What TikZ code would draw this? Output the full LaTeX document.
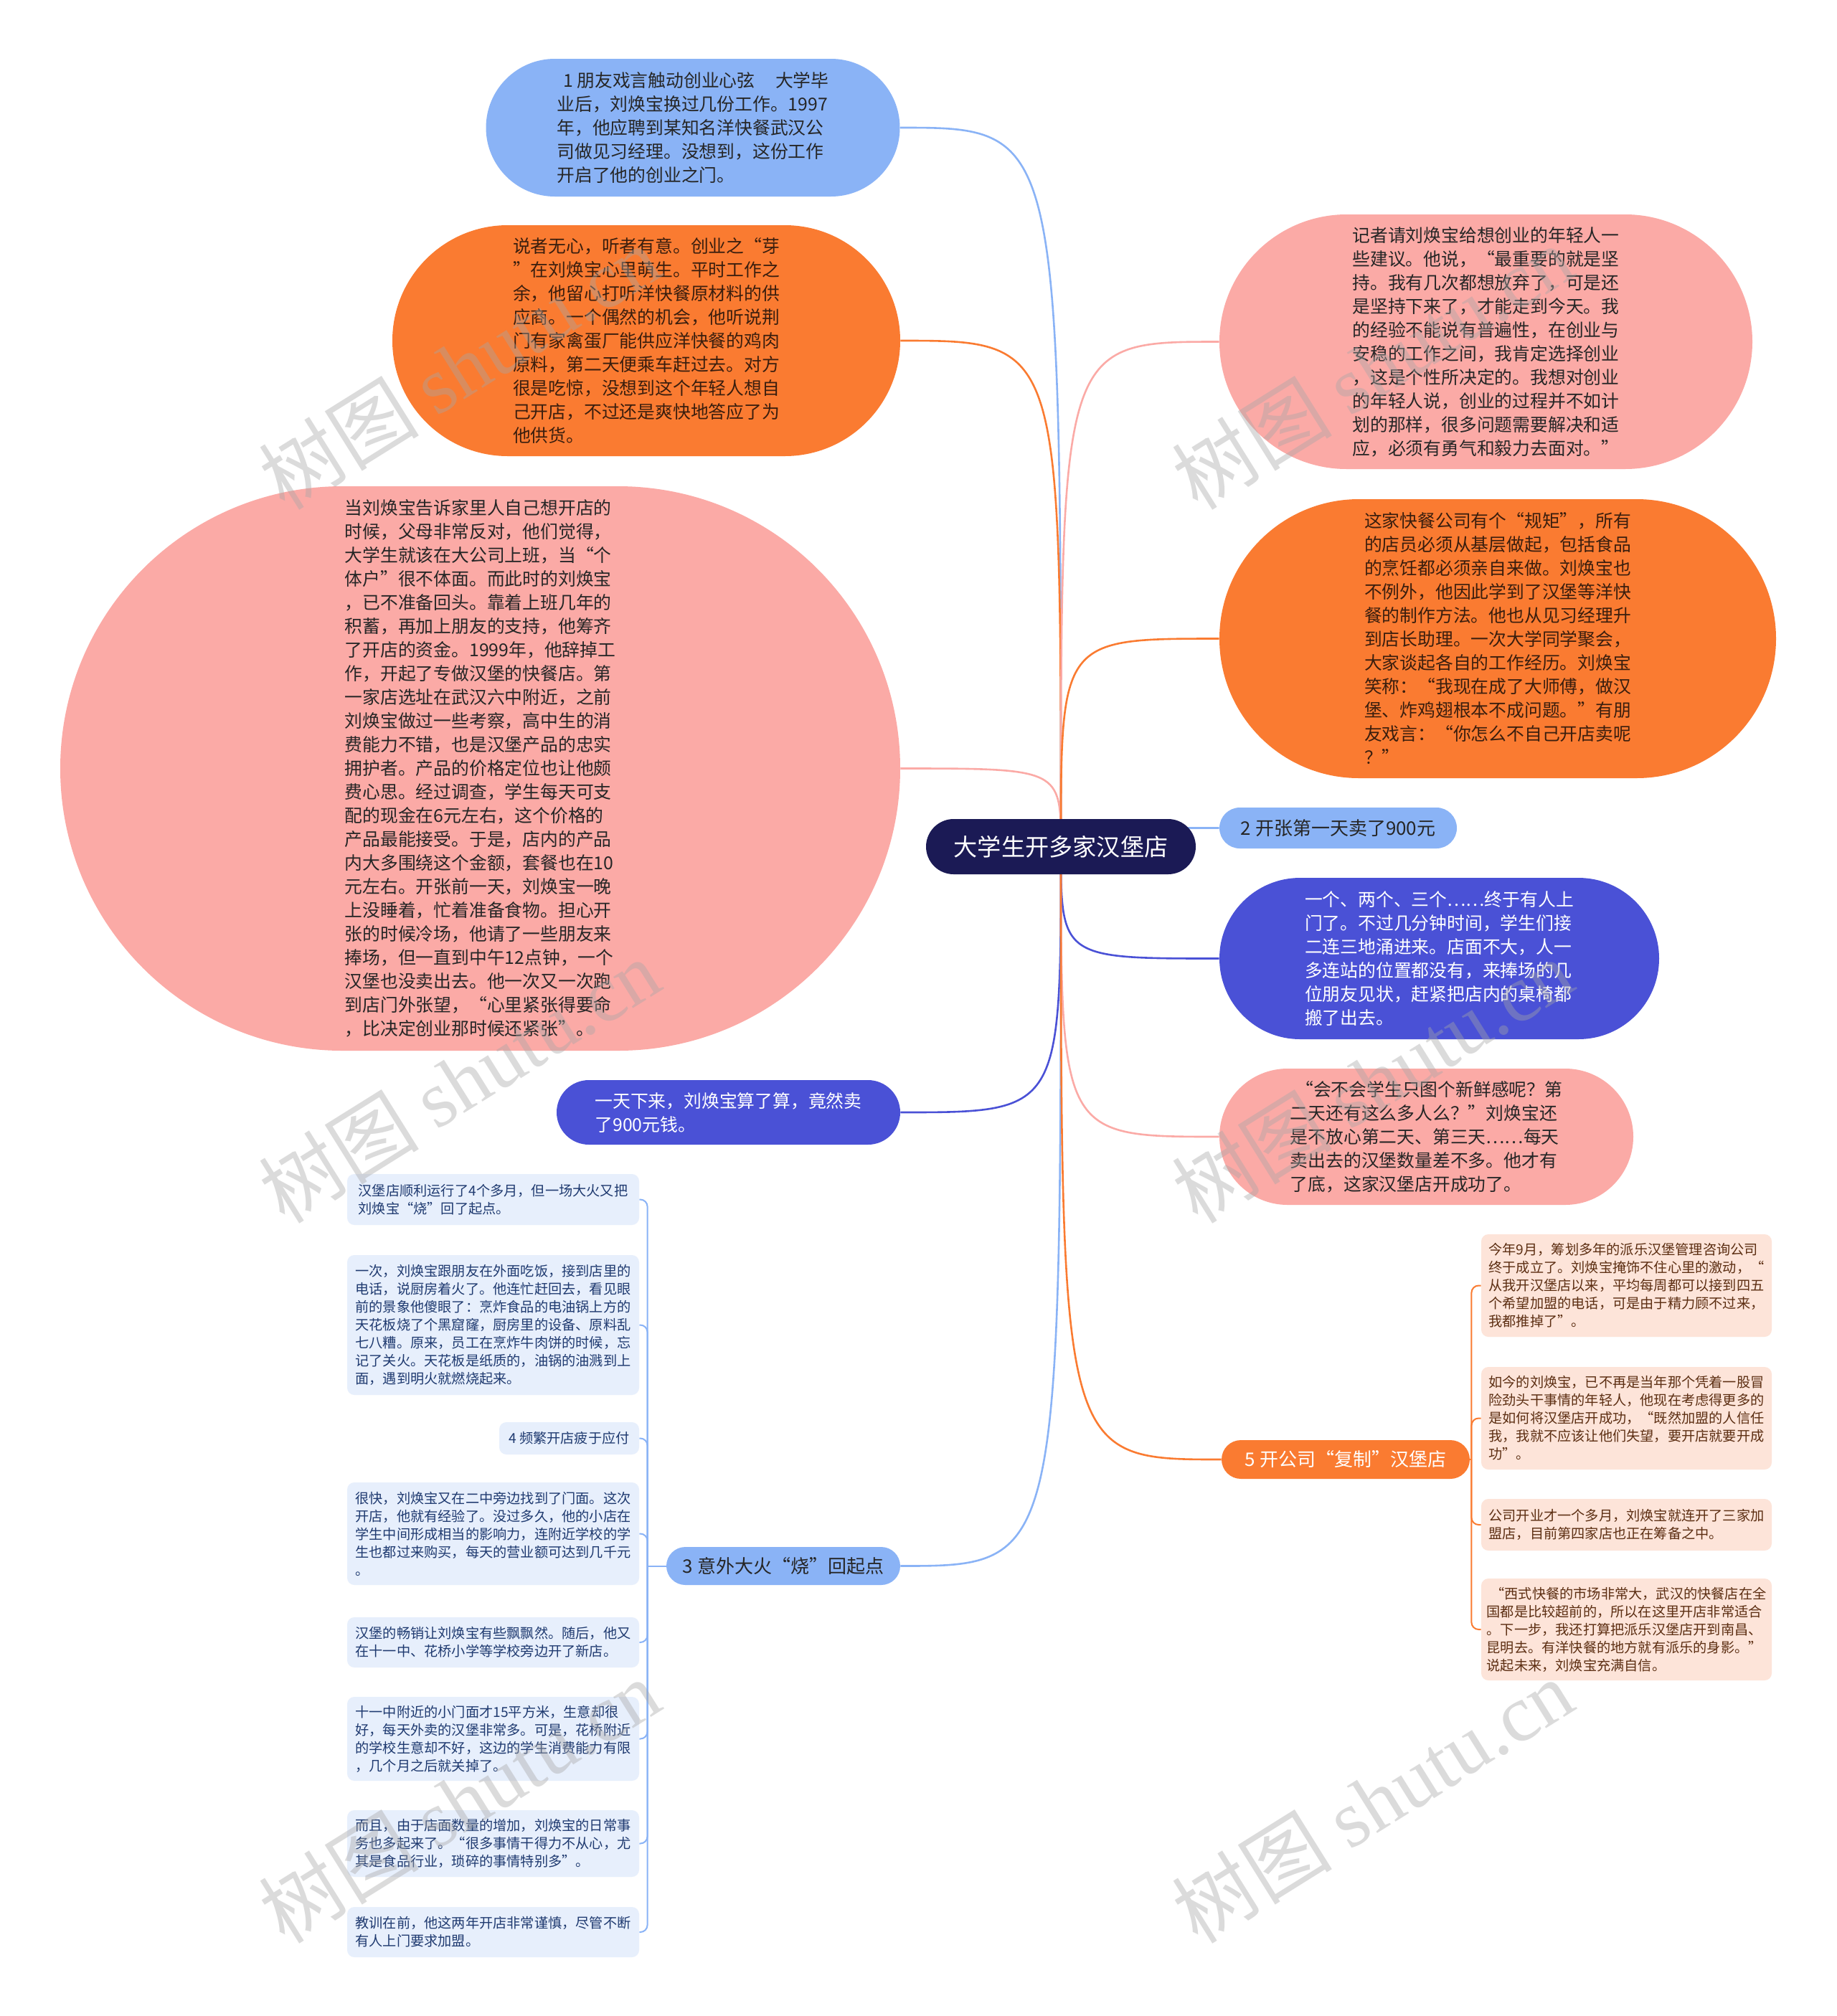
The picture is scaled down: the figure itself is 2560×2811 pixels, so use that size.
\documentclass[tikz,border=0pt]{standalone}
\usepackage{fontspec}
\setmainfont{Noto Sans CJK SC}
\newfontfamily\wmlatin{Liberation Serif}
\usetikzlibrary{calc}
\pgfdeclarelayer{bg}\pgfdeclarelayer{conn}\pgfdeclarelayer{fg}
\pgfsetlayers{bg,conn,main,fg}
\definecolor{cLB}{HTML}{8AB3F6}
\definecolor{cOR}{HTML}{FA7B31}
\definecolor{cPK}{HTML}{FBAAA6}
\definecolor{cDB}{HTML}{4A51D6}
\definecolor{cNV}{HTML}{1B1A55}
\definecolor{cLF}{HTML}{E7EFFC}
\definecolor{cLT}{HTML}{1F3A70}
\definecolor{cRF}{HTML}{FDE4D9}
\definecolor{cRT}{HTML}{5C2E12}
\definecolor{cTX}{HTML}{262626}
\definecolor{cOT}{HTML}{3A1E0E}
\begin{document}
\begin{tikzpicture}[x=0.5pt,y=-0.5pt,
  base/.style={rectangle, inner sep=0pt, align=left},
  bigtxt/.style={font=\fontsize{12.4pt}{16.5pt}\selectfont},
  smalltxt/.style={font=\fontsize{9.6pt}{12.5pt}\selectfont},
  lbltxt/.style={font=\fontsize{13pt}{16pt}\selectfont},
  conn/.style={line width=1.3pt},
  subconn/.style={line width=1pt, rounded corners=5pt},
  lchild/.style={base, smalltxt, fill=cLF, text=cLT, rounded corners=5pt, minimum width=203.5pt},
  rchild/.style={base, smalltxt, fill=cRF, text=cRT, rounded corners=5pt, minimum width=202.5pt},
  wm/.style={text=gray!70, opacity=0.4, font=\fontsize{56pt}{56pt}\selectfont, rotate=32}
]
\begin{pgfonlayer}{bg}
\fill[white] (0,0) rectangle (2560,2811);
\end{pgfonlayer}
\useasboundingbox (0,0) rectangle (2560,2811);

% central topic
\node[base, fill=cNV, text=white, font=\fontsize{16.6pt}{20pt}\selectfont,
  minimum width=188pt, minimum height=38.5pt, rounded corners=19.25pt] (c) at (1479,1180.5) {大学生开多家汉堡店};

% left main nodes
\node[base, bigtxt, fill=cLB, text=cTX, minimum width=288.5pt, minimum height=96pt, rounded corners=48pt] (n1) at (966,178)
 {\hspace*{0.35em}1 朋友戏言触动创业心弦\hspace{1.15em}大学毕\\业后，刘焕宝换过几份工作。1997\\年，他应聘到某知名洋快餐武汉公\\司做见习经理。没想到，这份工作\\开启了他的创业之门。};

\node[base, bigtxt, fill=cOR, text=cOT, minimum width=354pt, minimum height=161pt, rounded corners=80.5pt] (n2) at (901,475)
 {说者无心，听者有意。创业之“芽\\”在刘焕宝心里萌生。平时工作之\\余，他留心打听洋快餐原材料的供\\应商。一个偶然的机会，他听说荆\\门有家禽蛋厂能供应洋快餐的鸡肉\\原料，第二天便乘车赶过去。对方\\很是吃惊，没想到这个年轻人想自\\己开店，不过还是爽快地答应了为\\他供货。};

\node[base, bigtxt, fill=cPK, text=cTX, minimum width=585.5pt, minimum height=393.5pt, rounded corners=196.75pt] (n3) at (669.5,1071.5)
 {当刘焕宝告诉家里人自己想开店的\\时候，父母非常反对，他们觉得，\\大学生就该在大公司上班，当“个\\体户”很不体面。而此时的刘焕宝\\，已不准备回头。靠着上班几年的\\积蓄，再加上朋友的支持，他筹齐\\了开店的资金。1999年，他辞掉工\\作，开起了专做汉堡的快餐店。第\\一家店选址在武汉六中附近，之前\\刘焕宝做过一些考察，高中生的消\\费能力不错，也是汉堡产品的忠实\\拥护者。产品的价格定位也让他颇\\费心思。经过调查，学生每天可支\\配的现金在6元左右，这个价格的\\产品最能接受。于是，店内的产品\\内大多围绕这个金额，套餐也在10\\元左右。开张前一天，刘焕宝一晚\\上没睡着，忙着准备食物。担心开\\张的时候冷场，他请了一些朋友来\\捧场，但一直到中午12点钟，一个\\汉堡也没卖出去。他一次又一次跑\\到店门外张望，“心里紧张得要命\\，比决定创业那时候还紧张”。};

\node[base, bigtxt, fill=cDB, text=white, minimum width=239.5pt, minimum height=45pt, rounded corners=22.5pt] (n4) at (1015.5,1551)
 {一天下来，刘焕宝算了算，竟然卖\\了900元钱。};

\node[base, lbltxt, fill=cLB, text=cTX, minimum width=163pt, minimum height=26.5pt, rounded corners=13.25pt] (n11) at (1092,2183.5)
 {3 意外大火“烧”回起点};

% right main nodes
\node[base, bigtxt, fill=cPK, text=cTX, minimum width=371.5pt, minimum height=177.5pt, rounded corners=88.75pt] (n5) at (2071.5,476.5)
 {记者请刘焕宝给想创业的年轻人一\\些建议。他说，“最重要的就是坚\\持。我有几次都想放弃了，可是还\\是坚持下来了，才能走到今天。我\\的经验不能说有普遍性，在创业与\\安稳的工作之间，我肯定选择创业\\，这是个性所决定的。我想对创业\\的年轻人说，创业的过程并不如计\\划的那样，很多问题需要解决和适\\应，必须有勇气和毅力去面对。”};

\node[base, bigtxt, fill=cOR, text=cOT, minimum width=388pt, minimum height=194.5pt, rounded corners=97.25pt] (n6) at (2088,890.5)
 {这家快餐公司有个“规矩”，所有\\的店员必须从基层做起，包括食品\\的烹饪都必须亲自来做。刘焕宝也\\不例外，他因此学到了汉堡等洋快\\餐的制作方法。他也从见习经理升\\到店长助理。一次大学同学聚会，\\大家谈起各自的工作经历。刘焕宝\\笑称：“我现在成了大师傅，做汉\\堡、炸鸡翅根本不成问题。”有朋\\友戏言：“你怎么不自己开店卖呢\\？”};

\node[base, lbltxt, fill=cLB, text=cTX, minimum width=165.5pt, minimum height=28.5pt, rounded corners=14.25pt] (n7) at (1865.5,1154.5)
 {2 开张第一天卖了900元};

\node[base, bigtxt, fill=cDB, text=white, minimum width=306.5pt, minimum height=112.5pt, rounded corners=56.25pt] (n8) at (2006.5,1336.5)
 {一个、两个、三个……终于有人上\\门了。不过几分钟时间，学生们接\\二连三地涌进来。店面不大，人一\\多连站的位置都没有，来捧场的几\\位朋友见状，赶紧把店内的桌椅都\\搬了出去。};

\node[base, bigtxt, fill=cPK, text=cTX, minimum width=288.5pt, minimum height=95pt, rounded corners=47.5pt] (n9) at (1988.5,1585)
 {\hspace*{0.3em}“会不会学生只图个新鲜感呢？第\\二天还有这么多人么？”刘焕宝还\\是不放心第二天、第三天……每天\\卖出去的汉堡数量差不多。他才有\\了底，这家汉堡店开成功了。};

\node[base, lbltxt, fill=cOR, text=white, minimum width=173pt, minimum height=27pt, rounded corners=13.5pt] (n10) at (1876,2035)
 {5 开公司“复制”汉堡店};

% left children of n11
\node[lchild, minimum height=35.5pt] (la) at (687.5,1672.5)
 {汉堡店顺利运行了4个多月，但一场大火又把\\刘焕宝“烧”回了起点。};
\node[lchild, minimum height=97.5pt] (lb) at (687.5,1847.5)
 {一次，刘焕宝跟朋友在外面吃饭，接到店里的\\电话，说厨房着火了。他连忙赶回去，看见眼\\前的景象他傻眼了：烹炸食品的电油锅上方的\\天花板烧了个黑窟窿，厨房里的设备、原料乱\\七八糟。原来，员工在烹炸牛肉饼的时候，忘\\记了关火。天花板是纸质的，油锅的油溅到上\\面，遇到明火就燃烧起来。};
\node[lchild, minimum width=97.5pt, minimum height=22.5pt] (lc) at (793.5,2005.5)
 {4 频繁开店疲于应付};
\node[lchild, minimum height=71.5pt] (ld) at (687.5,2138.5)
 {很快，刘焕宝又在二中旁边找到了门面。这次\\开店，他就有经验了。没过多久，他的小店在\\学生中间形成相当的影响力，连附近学校的学\\生也都过来购买，每天的营业额可达到几千元\\。};
\node[lchild, minimum height=35pt] (le) at (687.5,2290)
 {汉堡的畅销让刘焕宝有些飘飘然。随后，他又\\在十一中、花桥小学等学校旁边开了新店。};
\node[lchild, minimum height=58.5pt] (lf) at (687.5,2424.5)
 {十一中附近的小门面才15平方米，生意却很\\好，每天外卖的汉堡非常多。可是，花桥附近\\的学校生意却不好，这边的学生消费能力有限\\，几个月之后就关掉了。};
\node[lchild, minimum height=46.5pt] (lg) at (687.5,2570.5)
 {而且，由于店面数量的增加，刘焕宝的日常事\\务也多起来了。“很多事情干得力不从心，尤\\其是食品行业，琐碎的事情特别多”。};
\node[lchild, minimum height=35pt] (lh) at (687.5,2694)
 {教训在前，他这两年开店非常谨慎，尽管不断\\有人上门要求加盟。};

% right children of n10
\node[rchild, minimum height=71.5pt] (ra) at (2267.5,1792.5)
 {今年9月，筹划多年的派乐汉堡管理咨询公司\\终于成立了。刘焕宝掩饰不住心里的激动，“\\从我开汉堡店以来，平均每周都可以接到四五\\个希望加盟的电话，可是由于精力顾不过来，\\我都推掉了”。};
\node[rchild, minimum height=71.5pt] (rb) at (2267.5,1977.5)
 {如今的刘焕宝，已不再是当年那个凭着一股冒\\险劲头干事情的年轻人，他现在考虑得更多的\\是如何将汉堡店开成功，“既然加盟的人信任\\我，我就不应该让他们失望，要开店就要开成\\功”。};
\node[rchild, minimum height=36pt] (rc) at (2267.5,2126)
 {公司开业才一个多月，刘焕宝就连开了三家加\\盟店，目前第四家店也正在筹备之中。};
\node[rchild, minimum height=71pt] (rd) at (2267.5,2272)
 {\hspace*{0.3em}“西式快餐的市场非常大，武汉的快餐店在全\\国都是比较超前的，所以在这里开店非常适合\\。下一步，我还打算把派乐汉堡店开到南昌、\\昆明去。有洋快餐的地方就有派乐的身影。”\\说起未来，刘焕宝充满自信。};

% connectors
\begin{pgfonlayer}{conn}
\draw[conn, cLB] (c.center) .. controls (c.center |- n1.east) .. (n1.east);
\draw[conn, cOR] (c.center) .. controls (c.center |- n2.east) .. (n2.east);
\draw[conn, cPK] (c.center) .. controls (c.center |- n3.east) .. (n3.east);
\draw[conn, cDB] (c.center) .. controls (c.center |- n4.east) .. (n4.east);
\draw[conn, cLB] (c.center) .. controls (c.center |- n11.east) .. (n11.east);
\draw[conn, cPK] (c.center) .. controls (c.center |- n5.west) .. (n5.west);
\draw[conn, cOR] (c.center) .. controls (c.center |- n6.west) .. (n6.west);
\draw[conn, cLB] (c.center) .. controls (c.center |- n7.west) .. (n7.west);
\draw[conn, cDB] (c.center) .. controls (c.center |- n8.west) .. (n8.west);
\draw[conn, cPK] (c.center) .. controls (c.center |- n9.west) .. (n9.west);
\draw[conn, cOR] (c.center) .. controls (c.center |- n10.west) .. (n10.west);
\coordinate (ls) at ([xshift=-13pt]n11.west);
\draw[subconn, cLB] (n11.west) -- (ls);
\foreach \k in {la,lb,lc,ld,le,lf,lg,lh} \draw[subconn, cLB] (ls) |- (\k.east);
\coordinate (rs) at ([xshift=1pt]n10.east);
\draw[subconn, cOR] (n10.east) -- (rs);
\foreach \k in {ra,rb,rc,rd} \draw[subconn, cOR] (rs) |- (\k.west);
\end{pgfonlayer}

% watermarks
\begin{pgfonlayer}{fg}
\node[wm] (w1) at (640,512) {树图 {\wmlatin shutu.cn}};
\node[wm] (w2) at (640,1507) {树图 {\wmlatin shutu.cn}};
\node[wm] (w3) at (640,2511) {树图 {\wmlatin shutu.cn}};
\node[wm] (w4) at (1913,512) {树图 {\wmlatin shutu.cn}};
\node[wm] (w5) at (1913,1507) {树图 {\wmlatin shutu.cn}};
\node[wm] (w6) at (1913,2511) {树图 {\wmlatin shutu.cn}};
\end{pgfonlayer}
\end{tikzpicture}
\end{document}
